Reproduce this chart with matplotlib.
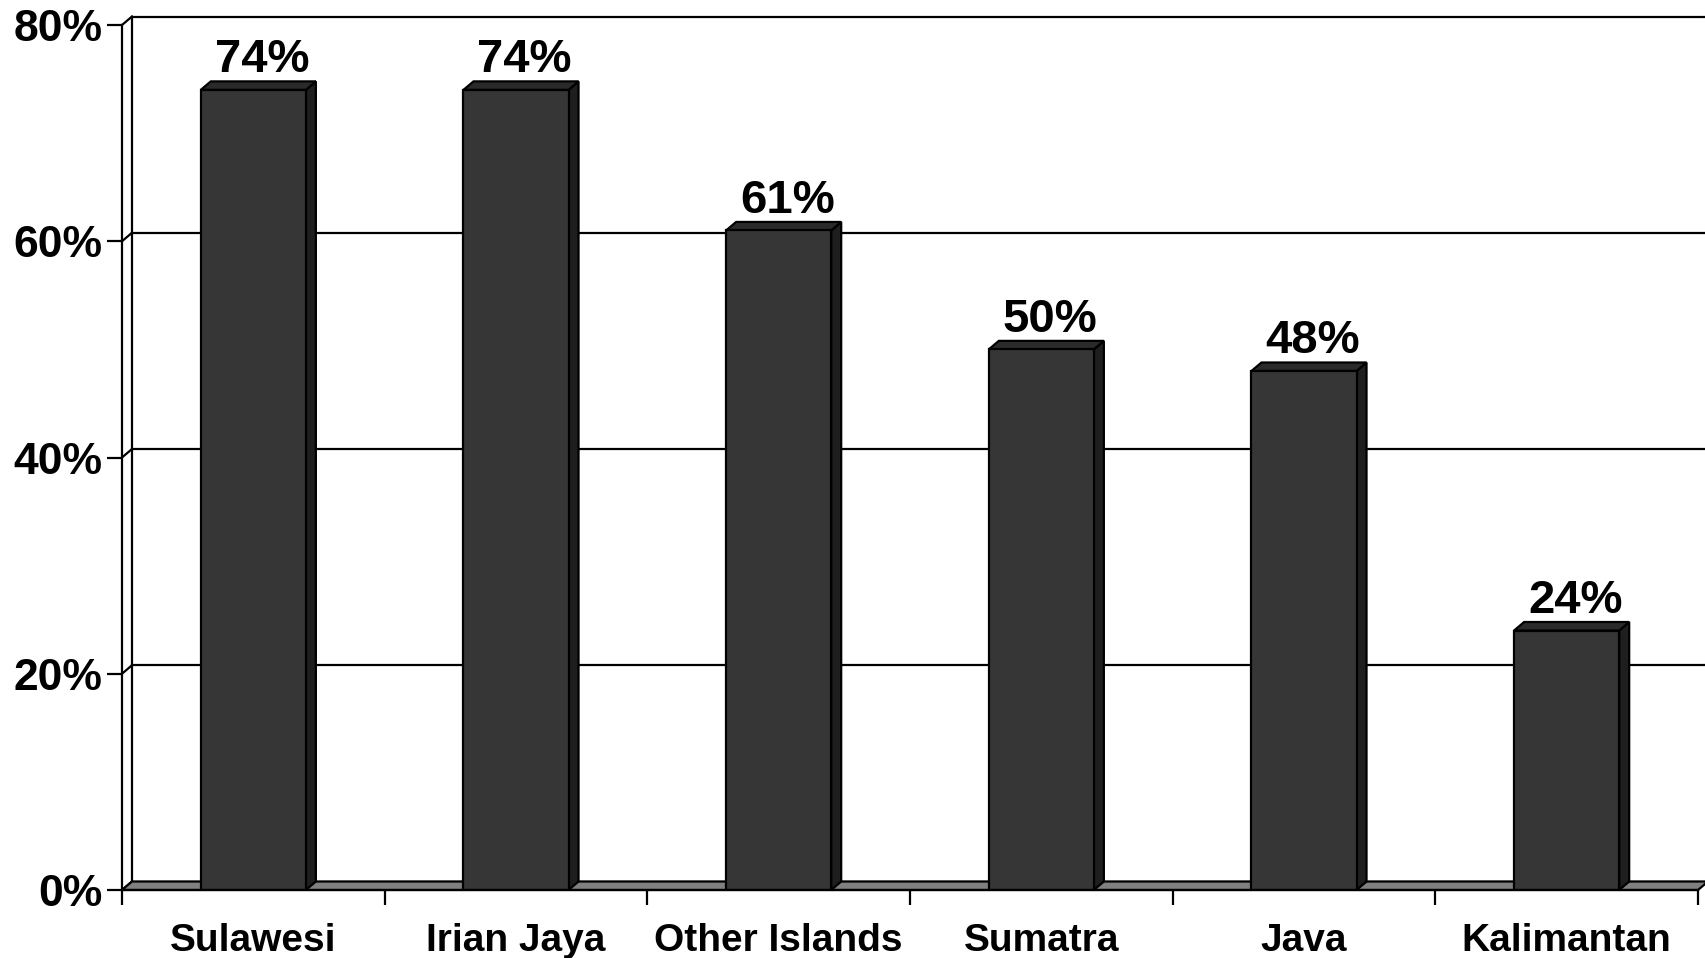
import matplotlib
matplotlib.use("Agg")
import matplotlib.pyplot as plt
from matplotlib.patches import Polygon

categories = ["Sulawesi", "Irian Jaya", "Other Islands", "Sumatra", "Java", "Kalimantan"]
values = [74, 74, 61, 50, 48, 24]
y_ticks = [0, 20, 40, 60, 80]
y_tick_labels = ["0%", "20%", "40%", "60%", "80%"]

plt.rcParams['font.family'] = ['Liberation Sans', 'DejaVu Sans']
plt.rcParams['font.weight'] = 'bold'

W, H = 1705, 958
fig = plt.figure(figsize=(W / 100, H / 100), dpi=100)
x_left_px, x_right_px = 122, 1698
y0_px, y80_px = 890, 25
ax = fig.add_axes([x_left_px / W, (H - y0_px) / H,
                   (x_right_px - x_left_px) / W, (y0_px - y80_px) / H])
n = len(categories)
ax.set_xlim(0, n)
ax.set_ylim(0, 80)

px_per_x = (x_right_px - x_left_px) / n
px_per_y = (y0_px - y80_px) / 80
dx = 10 / px_per_x
dy = 8.5 / px_per_y

lw = 1.6
black = "black"

# back wall
wall = Polygon([(dx, dy), (n + dx, dy), (n + dx, 80 + dy), (dx, 80 + dy)],
               closed=True, facecolor="white", edgecolor="none", zorder=0.1, clip_on=False)
ax.add_patch(wall)
ax.plot([dx, dx], [dy, 80 + dy], color=black, lw=lw, zorder=0.3, clip_on=False)
for t in y_ticks:
    # gridline on back wall
    ax.plot([dx, n + dx], [t + dy, t + dy], color=black, lw=lw, zorder=0.3, clip_on=False)
    # side wall diagonal
    ax.plot([0, dx], [t, t + dy], color=black, lw=lw, zorder=0.3, clip_on=False)

# floor
floor = Polygon([(0, 0), (n, 0), (n + dx, dy), (dx, dy)], closed=True,
                facecolor="#808080", edgecolor=black, lw=lw, zorder=0.5, clip_on=False)
ax.add_patch(floor)

# bars
bw = 0.4
xs = [i + 0.5 for i in range(n)]
bars = ax.bar(xs, values, width=bw, color="#363636", edgecolor=black, linewidth=lw, zorder=2)
for b, v in zip(bars, values):
    x0 = b.get_x()
    x1 = x0 + b.get_width()
    side = Polygon([(x1, 0), (x1 + dx, dy), (x1 + dx, v + dy), (x1, v)], closed=True,
                   facecolor="#1e1e1e", edgecolor=black, lw=lw, zorder=1.9, clip_on=False)
    top = Polygon([(x0, v), (x1, v), (x1 + dx, v + dy), (x0 + dx, v + dy)], closed=True,
                  facecolor="#2a2a2a", edgecolor=black, lw=lw, zorder=1.9, clip_on=False)
    ax.add_patch(side)
    ax.add_patch(top)
    ax.annotate(f"{v}%", xy=(b.get_x() + bw / 2 + dx / 2, v + dy), xytext=(2.5, 6.5),
                textcoords="offset points", ha="center", va="baseline",
                fontsize=34, fontweight="bold", zorder=3)

# category labels
for x, c in zip(xs, categories):
    ax.annotate(c, xy=(x, 0), xytext=(0, -(951 - y0_px) * 0.72),
                textcoords="offset points", ha="center", va="baseline",
                fontsize=28, fontweight="bold", annotation_clip=False)

# axes / ticks
for s in ["top", "right"]:
    ax.spines[s].set_visible(False)
for s in ["left", "bottom"]:
    ax.spines[s].set_linewidth(lw)
    ax.spines[s].set_color(black)
    ax.spines[s].set_zorder(2.5)

ax.set_yticks(y_ticks)
ax.set_yticklabels(y_tick_labels, fontsize=32, fontweight="bold")
ax.set_xticks(range(n + 1))
ax.set_xticklabels([])
ax.tick_params(axis="both", direction="out", length=10.5, width=lw, color=black)
ax.tick_params(axis="y", pad=3.5)
ax.patch.set_visible(False)

fig.savefig("out.png", dpi=100, facecolor="white")
